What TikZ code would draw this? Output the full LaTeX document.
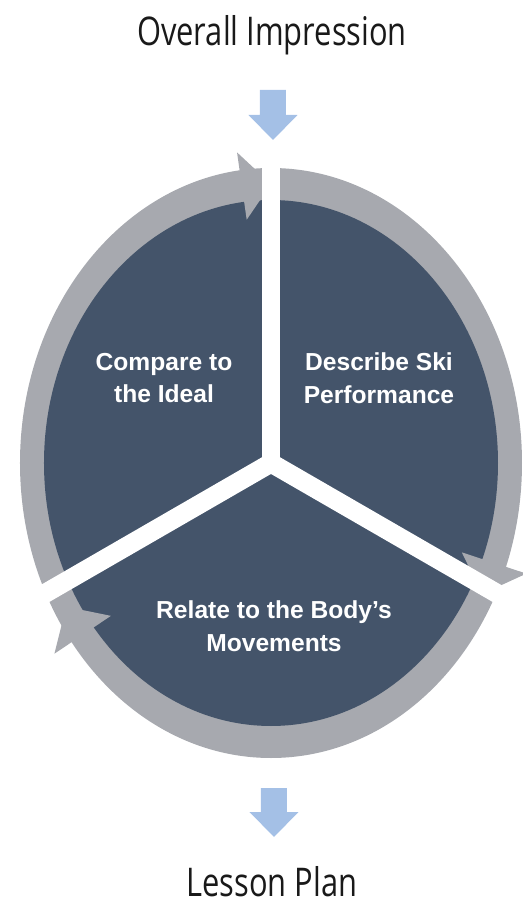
\documentclass[tikz,border=0pt]{standalone}
\usepackage{fontspec}
\setmainfont{Liberation Sans}
\newfontfamily\headfont[FakeStretch=0.78]{Open Sans}
\usetikzlibrary{calc}

\definecolor{slate}{HTML}{44546A}
\definecolor{ringgray}{HTML}{A7A9AF}
\definecolor{flowblue}{HTML}{A4C0E6}

\tikzstyle{heading}=[anchor=base, inner sep=0pt, font=\headfont\fontsize{22.5}{24}\selectfont, text=black!90]
\tikzstyle{step label}=[align=center, text=white, font=\bfseries\fontsize{14}{18.7}\selectfont]
\tikzstyle{gap}=[draw=white, line width=0.38cm, line cap=butt]

\begin{document}
\begin{tikzpicture}[x=0.02cm, y=0.02cm]
          \useasboundingbox (-271,463) rectangle (251,-440);

          % body of the cycle
          \fill[ringgray] (0,0) ellipse [x radius=251, y radius=295];
          \fill[slate] (0,0) ellipse [x radius=227, y radius=263];

          % arrow heads on the ring
          \foreach \a in {97,-21,218} {
            \pgfmathsetmacro{\nx}{279*cos(\a)}
            \pgfmathsetmacro{\ny}{239*sin(\a)}
            \pgfmathsetmacro{\nn}{veclen(\nx,\ny)}
            \fill[ringgray] ({239*cos(\a)+34*\nx/\nn},{279*sin(\a)+34*\ny/\nn})
              -- ({239*cos(\a)-34*\nx/\nn},{279*sin(\a)-34*\ny/\nn})
              -- ({239*cos(\a-7)},{279*sin(\a-7)}) -- cycle;
          }

          % white cuts
          \coordinate (hub) at (0,0);
          \draw[gap, line join=miter] (-30:320) -- (hub) -- (210:320);
          \draw[gap] (hub) -- (0,312);

          \node (compare) [step label] at (-107,85) {Compare to\\the Ideal};
          \node (describe) [step label] at (108,85) {Describe Ski\\Performance};
          \node (relate) [step label] at (3,-163) {Relate to the Body's\\Movements};

          % in and out
          \node (impression) [heading] at (1,417) {Overall Impression};
          \node (plan) [heading] at (1,-433) {Lesson Plan};

          \coordinate (inarrow) at (2,373);
          \coordinate (outarrow) at (3,-325);
          \fill[flowblue] (inarrow) ++(-13,0) -- ++(26,0) -- ++(0,-25) -- ++(11.5,0) -- ++(-24.5,-25) -- ++(-24.5,25) -- ++(11.5,0) -- cycle;
          \fill[flowblue] (outarrow) ++(-13,0) -- ++(26,0) -- ++(0,-24) -- ++(11.5,0) -- ++(-24.5,-25) -- ++(-24.5,25) -- ++(11.5,0) -- cycle;
    \end{tikzpicture}
\end{document}
